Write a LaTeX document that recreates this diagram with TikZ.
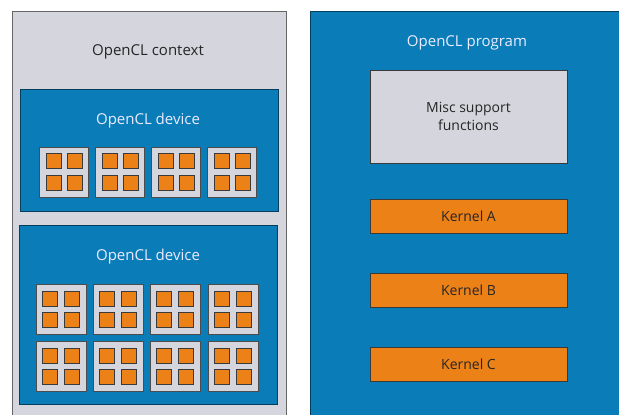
\documentclass[tikz,border=0pt]{standalone}
\usepackage{fontspec}
\setmainfont{Open Sans}
\definecolor{ctxgray}{HTML}{D5D5DD}
\definecolor{clblue}{HTML}{0A7DB8}
\definecolor{clorange}{HTML}{EC8118}
\definecolor{darkline}{HTML}{3A3A3A}
\begin{document}
\begin{tikzpicture}[x=1pt,y=-1pt,
  ctxbox/.style={fill=ctxgray,draw=gray!80!black,line width=0.8pt},
  devbox/.style={fill=clblue,draw=clblue!50!black,line width=0.8pt},
  cubox/.style={fill=ctxgray,draw=gray!60!black,line width=0.6pt},
  pebox/.style={fill=clorange,draw=darkline,line width=0.6pt},
  kbox/.style={fill=clorange,draw=darkline,line width=0.8pt,minimum width=197pt,minimum height=34pt,inner sep=0pt,font=\fontsize{14}{16}\selectfont,text=black!85},
  misc/.style={fill=ctxgray,draw=darkline,line width=0.8pt,minimum width=197pt,minimum height=93pt,inner sep=0pt,align=center,font=\fontsize{14}{18}\selectfont,text=black!85},
  darklabel/.style={font=\fontsize{15}{17}\selectfont,text=black!85},
  lightlabel/.style={font=\fontsize{15}{17}\selectfont,text=white!92!blue}
]
\useasboundingbox (0,0) rectangle (619,415);
\fill[white] (0,0) rectangle (619,415);
% context
\draw[ctxbox] (12,11) rectangle (286,418);
\node[darklabel] (ctx) at (148,52) {OpenCL context};
% device 1
\draw[devbox] (20,89) rectangle (278,211);
\node[lightlabel] (dev1) at (148,121) {OpenCL device};
\foreach \i in {0,1,2,3}{
  \pgfmathsetmacro{\xx}{39+56*\i}
  \draw[cubox] (\xx,147) rectangle ++(49,50);
  \foreach \a in {7,28}{\foreach \b in {6,28}{
    \draw[pebox] (\xx+\a,147+\b) rectangle ++(15,15);
  }}
}
% device 2
\draw[devbox] (19,225) rectangle (277,404);
\node[lightlabel] (dev2) at (148,257) {OpenCL device};
\foreach \i in {0,1,2,3}{
  \foreach \yy in {284,341}{
    \pgfmathsetmacro{\xx}{36+57.3*\i}
    \draw[cubox] (\xx,\yy) rectangle ++(50,50);
    \foreach \a in {6,28}{\foreach \b in {7,28}{
      \draw[pebox] (\xx+\a,\yy+\b) rectangle ++(15,15);
    }}
  }
}
% program
\draw[devbox] (310,11) rectangle (621,418);
\node[lightlabel] (prog) at (467,43) {OpenCL program};
\node[misc] (misc) at (468.5,116.5) {Misc support\\functions};
\node[kbox] (ka) at (468.5,216) {Kernel A};
\node[kbox] (kb) at (468.5,290) {Kernel B};
\node[kbox] (kc) at (468.5,364.5) {Kernel C};
\end{tikzpicture}
\end{document}
